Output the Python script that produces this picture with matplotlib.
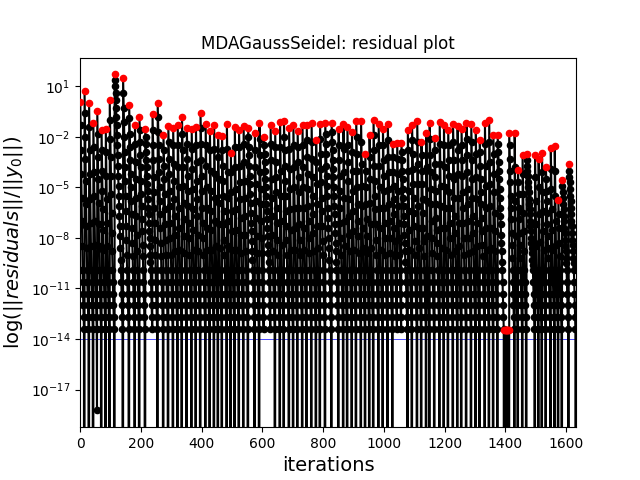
import numpy as np
import matplotlib
matplotlib.use("Agg")
import matplotlib.pyplot as plt

# log10 of the normalized residual, one list per MDA run (first value = first iteration, red)
run_heads_log = [
    [0.07, -1.3, -2.8, -4.2, -5.6, -7.0, -8.5],
    [0.7, -0.6, -2.0, -3.3, -4.6, -6.0, -7.3, -8.6],
    [0.0, -1.4, -2.8, -4.2, -5.7, -7.1, -8.5],
    [-1.2, -2.6, -4.1, -5.5, -7.0, -8.4],
    [-0.47, -1.8, -3.2, -4.5, -5.9, -7.2, -8.5],
    [-1.6, -2.8, -4.0, -5.2, -6.3, -7.5, -8.7],
    [-1.56, -2.9, -4.3, -5.7, -7.1, -8.5],
    [0.17, -1.0, -2.1, -3.2, -4.3, -5.4, -6.5, -7.7, -8.8],
    [1.71, 1.35, 1.0, 0.6, 0.2, -0.3, -0.8, -1.3, -1.9, -2.5, -3.1, -3.7, -4.3, -4.9, -5.5, -6.1, -6.7, -7.3, -7.9, -8.6, -9.3],
    [1.49, 0.6, -0.3, -1.1, -2.0, -2.9, -3.8, -4.6, -5.5, -6.4, -7.3, -8.1, -9.0],
    [-0.13, -0.9, -1.8, -2.6, -3.4, -4.2, -5.0, -5.8, -6.6, -7.4, -8.3, -9.1],
    [-1.32, -2.4, -3.5, -4.5, -5.6, -6.7, -7.8, -8.8],
    [-0.82, -1.6, -2.3, -3.1, -3.8, -4.6, -5.4, -6.1, -6.9, -7.6, -8.4, -9.1],
    [-1.51, -2.0, -2.4, -2.9, -3.4, -3.8, -4.3, -4.8, -5.2, -5.7, -6.2, -6.6, -7.1, -7.6, -8.0, -8.5, -9.0, -9.4],
    [-0.66, -1.6, -2.5, -3.4, -4.4, -5.3, -6.2, -7.1, -8.1, -9.0],
    [0.0, -0.8, -1.7, -2.5, -3.3, -4.1, -5.0, -5.8, -6.6, -7.4, -8.3, -9.1],
    [-1.87, -2.8, -3.7, -4.5, -5.4, -6.3, -7.2, -8.1, -9.0],
    [-1.38, -2.3, -3.3, -4.2, -5.2, -6.1, -7.1, -8.0, -9.0],
    [-1.48, -2.5, -3.6, -4.6, -5.7, -6.7, -7.8, -8.8],
    [-1.32, -2.5, -3.8, -5.0, -6.2, -7.4, -8.7],
    [-0.82, -1.8, -2.8, -3.8, -4.9, -5.9, -6.9, -7.9, -8.9],
    [-1.45, -2.4, -3.3, -4.3, -5.2, -6.1, -7.1, -8.0, -9.0],
    [-1.55, -2.7, -3.9, -5.1, -6.3, -7.5, -8.7],
    [-1.42, -2.5, -3.5, -4.6, -5.7, -6.7, -7.8, -8.8],
    [-0.58, -1.5, -2.4, -3.4, -4.3, -5.2, -6.2, -7.1, -8.0, -9.0],
    [-1.26, -2.5, -3.7, -5.0, -6.2, -7.4, -8.7],
    [-1.65, -2.8, -4.0, -5.2, -6.4, -7.5, -8.7],
    [-1.32, -2.7, -4.2, -5.6, -7.0, -8.5],
    [-1.87, -3.2, -4.5, -5.9, -7.2, -8.6],
    [-1.93, -2.8, -3.7, -4.6, -5.5, -6.4, -7.2, -8.1, -9.0],
    [-1.26, -2.7, -4.1, -5.6, -7.0, -8.5],
    [-2.96, -4.1, -5.3, -6.4, -7.6, -8.7],
    [-1.42, -2.6, -3.8, -5.1, -6.3, -7.5, -8.7],
    [-1.57, -2.6, -3.7, -4.7, -5.7, -6.8, -7.8, -8.9],
    [-1.35, -2.4, -3.5, -4.6, -5.6, -6.7, -7.8, -8.8],
    [-1.45, -2.0, -2.6, -3.1, -3.7, -4.3, -4.8, -5.4, -5.9, -6.5, -7.1, -7.6, -8.2, -8.8, -9.3],
    [-1.75, -2.8, -3.8, -4.8, -5.8, -6.8, -7.9, -8.9],
    [-1.18, -2.1, -3.1, -4.1, -5.1, -6.0, -7.0, -8.0, -8.9],
    [-2.0, -2.5, -3.0, -3.5, -4.0, -4.5, -5.0, -5.5, -6.0, -6.4, -6.9, -7.4, -7.9, -8.4, -8.9, -9.4],
    [-1.28, -2.4, -3.4, -4.5, -5.6, -6.7, -7.8, -8.8],
    [-1.67, -2.6, -3.5, -4.4, -5.3, -6.2, -7.1, -8.1, -9.0],
    [-1.12, -2.6, -4.0, -5.5, -7.0, -8.4],
    [-1.08, -2.0, -2.8, -3.7, -4.6, -5.5, -6.4, -7.3, -8.1, -9.0],
    [-1.45, -2.7, -3.9, -5.1, -6.3, -7.5, -8.7],
    [-1.32, -2.5, -3.8, -5.0, -6.2, -7.4, -8.7],
    [-1.65, -2.6, -3.5, -4.4, -5.3, -6.2, -7.2, -8.1, -9.0],
    [-1.32, -2.5, -3.8, -5.0, -6.2, -7.4, -8.7],
    [-1.28, -2.2, -3.2, -4.2, -5.1, -6.1, -7.0, -8.0, -8.9],
    [-1.16, -2.3, -3.3, -4.4, -5.5, -6.6, -7.7, -8.8],
    [-2.17, -3.5, -4.8, -6.0, -7.3, -8.6],
    [-1.26, -2.1, -3.0, -3.9, -4.7, -5.6, -6.4, -7.3, -8.2, -9.0],
    [-1.18, -1.8, -2.4, -3.0, -3.7, -4.3, -4.9, -5.5, -6.2, -6.8, -7.4, -8.0, -8.6, -9.3],
    [-1.17, -1.7, -2.3, -2.8, -3.4, -3.9, -4.4, -5.0, -5.5, -6.1, -6.6, -7.2, -7.7, -8.3, -8.8, -9.4],
    [-1.52, -2.5, -3.4, -4.3, -5.2, -6.2, -7.1, -8.0, -9.0],
    [-1.26, -2.7, -4.1, -5.6, -7.0, -8.5],
    [-1.42, -2.5, -3.5, -4.6, -5.7, -6.7, -7.8, -8.8],
    [-1.71, -2.9, -4.0, -5.2, -6.4, -7.6, -8.7],
    [-1.05, -2.0, -3.0, -4.0, -5.0, -6.0, -7.0, -7.9, -8.9],
    [-1.08, -2.3, -3.6, -4.9, -6.1, -7.4, -8.6],
    [-3.0, -4.0, -5.0, -6.0, -6.9, -7.9, -8.9],
    [-1.87, -3.2, -4.5, -5.9, -7.2, -8.6],
    [-1.02, -1.9, -2.8, -3.7, -4.6, -5.5, -6.3, -7.2, -8.1, -9.0],
    [-1.26, -2.5, -3.7, -5.0, -6.2, -7.4, -8.7],
    [-1.52, -2.5, -3.4, -4.3, -5.2, -6.2, -7.1, -8.0, -9.0],
    [-1.26, -2.2, -3.2, -4.1, -5.1, -6.0, -7.0, -8.0, -8.9],
    [-2.41, -3.2, -4.1, -4.9, -5.7, -6.6, -7.4, -8.2, -9.1],
    [-2.35, -3.3, -4.2, -5.2, -6.1, -7.1, -8.0, -9.0],
    [-2.35, -2.9, -3.4, -4.0, -4.5, -5.1, -5.6, -6.1, -6.7, -7.2, -7.8, -8.3, -8.8, -9.4],
    [-1.61, -2.8, -4.0, -5.2, -6.4, -7.5, -8.7],
    [-1.32, -2.2, -3.0, -3.9, -4.8, -5.6, -6.5, -7.3, -8.2, -9.0],
    [-1.05, -2.3, -3.6, -4.8, -6.1, -7.4, -8.6],
    [-2.31, -3.1, -4.0, -4.8, -5.7, -6.5, -7.4, -8.2, -9.1],
    [-1.77, -3.8, -5.8, -7.9],
    [-1.18, -2.1, -3.1, -4.1, -5.1, -6.0, -7.0, -8.0, -8.9],
    [-2.05, -2.8, -3.6, -4.4, -5.2, -6.0, -6.8, -7.5, -8.3, -9.1],
    [-1.12, -2.4, -3.6, -4.9, -6.1, -7.4, -8.6],
    [-1.32, -2.5, -3.8, -5.0, -6.2, -7.4, -8.7],
    [-1.57, -2.5, -3.4, -4.3, -5.3, -6.2, -7.1, -8.0, -9.0],
    [-1.26, -2.3, -3.4, -4.5, -5.6, -6.7, -7.7, -8.8],
    [-1.38, -2.8, -4.2, -5.6, -7.1, -8.5],
    [-1.55, -2.5, -3.4, -4.3, -5.3, -6.2, -7.1, -8.0, -9.0],
    [-1.18, -2.1, -3.1, -4.1, -5.1, -6.0, -7.0, -8.0, -8.9],
    [-1.26, -2.3, -3.4, -4.5, -5.6, -6.7, -7.7, -8.8],
    [-1.61, -3.0, -4.4, -5.7, -7.1, -8.5],
    [-2.17, -2.9, -3.7, -4.5, -5.3, -6.0, -6.8, -7.6, -8.4, -9.1],
    [-1.18, -2.4, -3.7, -4.9, -6.2, -7.4, -8.7],
    [-0.98, -2.3, -3.5, -4.8, -6.1, -7.4, -8.6],
    [-1.91, -3.0, -4.2, -5.3, -6.5, -7.6, -8.8],
    [-1.87, -2.4, -2.9, -3.5, -4.0, -4.5, -5.1, -5.6, -6.2, -6.7, -7.2, -7.8, -8.3, -8.8, -9.4],
    [-13.45], [-13.45], [-13.45], [-13.45], [-13.45], [-13.45], [-13.45], [-13.45],
    [-1.77, -2.5, -3.3, -4.0, -4.7, -5.5, -6.2, -6.9, -7.7, -8.4, -9.2],
    [-1.77, -3.8, -5.8, -7.9],
    [-3.95, -4.7, -5.4, -6.2, -6.9, -7.7, -8.4, -9.2],
    [-3.1, -4.2, -5.4, -6.5, -7.6, -8.8],
    [-3.04, -3.4, -3.7, -4.0, -4.3, -4.7, -5.0, -5.3, -5.7, -6.0, -6.3, -6.6, -7.0, -7.3, -7.6, -8.0, -8.3, -8.6, -8.9, -9.3, -9.6],
    [-3.06, -4.4, -5.8, -7.2, -8.5],
    [-3.3, -4.95, -6.6, -8.25],
    [-2.96, -4.1, -5.3, -6.4, -7.6, -8.7],
    [-3.79, -4.5, -5.2, -5.8, -6.5, -7.2, -7.9, -8.6, -9.2],
    [-2.64, -3.9, -5.1, -6.3, -7.5, -8.7],
    [-2.54, -4.0, -5.5, -7.0, -8.4],
    [-5.77, -6.6, -7.4, -8.3, -9.1],
    [-4.54, -4.9, -5.25, -5.6, -6.0, -6.3, -6.7, -7.0, -7.4, -7.7, -8.1, -8.5, -8.8, -9.2, -9.5],
    [-3.63, -4.0, -4.4, -4.7, -5.1, -5.5, -5.8, -6.2, -6.6, -7.0, -7.3, -7.7, -8.1, -8.4, -8.8, -9.2, -9.5],
]
# common converged tail (log10) shared by the runs
tail_log = [-9.9, -10.6, -11.3, -12.0, -12.7, -13.4]
runs_without_tail = [89, 90, 91, 92, 93, 94, 95, 96]
runs_without_zero = [3, 13, 37, 38, 65, 66]
run_extra_log = {3: [-18.24]}
tolerance = 1e-14

residual = []
first_iter = []
for i, head in enumerate(run_heads_log):
    first_iter.append(len(residual))
    vals = list(head)
    if i not in runs_without_tail:
        vals += tail_log
    vals += run_extra_log.get(i, [])
    residual += [10.0 ** v for v in vals]
    if i not in runs_without_zero:
        residual.append(0.0)

residual = np.array(residual)
n = len(residual)
it = np.arange(n)
is_first = np.zeros(n, dtype=bool)
is_first[first_iter] = True
pos = residual > 0

fig = plt.figure(figsize=(6.4, 4.8), dpi=100)
ax = fig.add_subplot(1, 1, 1)
ax.plot(it, residual, linestyle="-", color="k", zorder=1)
blk = pos & ~is_first
ax.scatter(it[blk], residual[blk], s=20, color="black", zorder=2)
red = pos & is_first
ax.scatter(it[red], residual[red], s=20, color="red", zorder=3)
ax.axhline(y=tolerance, c="blue", linewidth=0.5, zorder=0)
ax.set_title("MDAGaussSeidel: residual plot")
ax.set_yscale("log")
ax.set_xlabel("iterations", fontsize=14)
ax.set_xlim([-1, n])
ax.set_ylabel(r"$\log(||residuals||/||y_0||)$", fontsize=14)
fig.savefig("out.png", dpi=100)
